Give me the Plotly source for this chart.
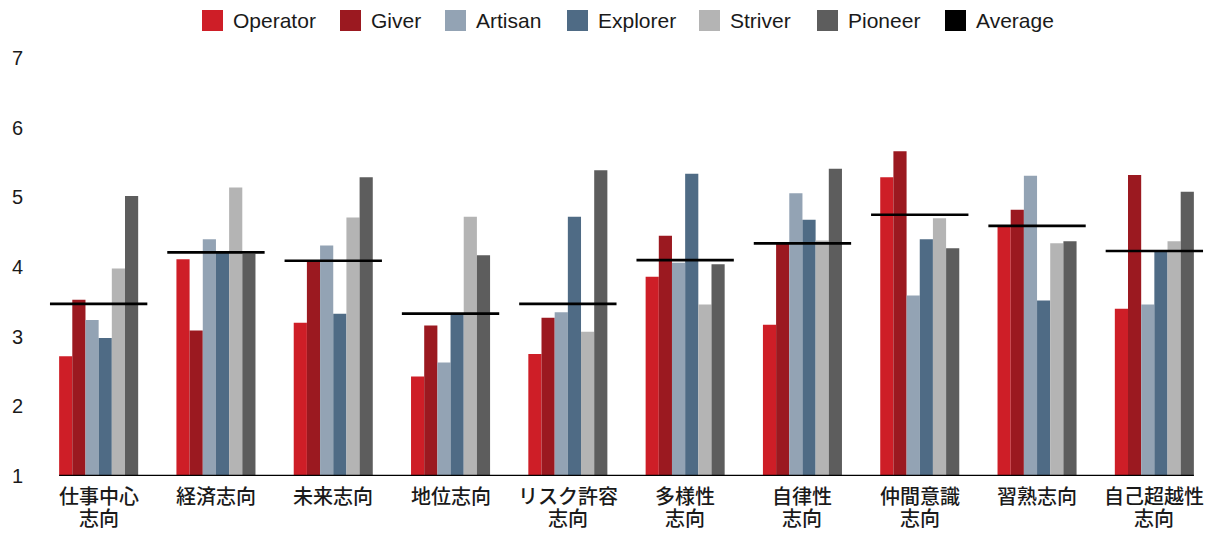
import plotly.graph_objects as go

# Orientation categories (line breaks marked with "\n")
categories = [
    "仕事中心\n志向", "経済志向", "未来志向", "地位志向", "リスク許容\n志向",
    "多様性\n志向", "自律性\n志向", "仲間意識\n志向", "習熟志向", "自己超越性\n志向",
]

# Mean scores per persona type
operator = [2.72, 4.11, 3.20, 2.43, 2.75, 3.86, 3.17, 5.29, 4.59, 3.40]
giver = [3.53, 3.09, 4.09, 3.16, 3.27, 4.45, 4.33, 5.66, 4.82, 5.32]
artisan = [3.24, 4.40, 4.31, 2.63, 3.35, 4.06, 5.06, 3.59, 5.31, 3.46]
explorer = [2.98, 4.20, 3.33, 3.32, 4.72, 5.34, 4.68, 4.40, 3.52, 4.22]
striver = [3.98, 5.14, 4.71, 4.72, 3.07, 3.46, 4.38, 4.70, 4.34, 4.37]
pioneer = [5.02, 4.19, 5.29, 4.17, 5.39, 4.04, 5.41, 4.27, 4.37, 5.08]
average = [3.47, 4.21, 4.09, 3.33, 3.47, 4.10, 4.34, 4.75, 4.59, 4.23]

series_names = ["Operator", "Giver", "Artisan", "Explorer", "Striver", "Pioneer"]
series_values = [operator, giver, artisan, explorer, striver, pioneer]
series_colors = ["#CE1E27", "#9B1920", "#93A3B4", "#4F6B85", "#B4B4B4", "#5D5D5D"]
avg_name = "Average"
avg_color = "#000000"

y_ticks = [1, 2, 3, 4, 5, 6, 7]

# Page geometry
W, H = 1223, 535
ML, MR, MT, MB = 40, 10, 58, 59
plot_w = W - ML - MR
plot_h = H - MT - MB

TEXT = "#1a1a1a"
LATIN = "Liberation Sans, Arial, sans-serif"
CJK = "Liberation Sans, Noto Sans CJK JP, sans-serif"

bar_w = 0.1123
group_w = bar_w * len(series_names)
avg_half = 0.415

fig = go.Figure()
x_idx = list(range(len(categories)))

for k, (name, vals, col) in enumerate(zip(series_names, series_values, series_colors)):
    fig.add_trace(go.Bar(
        x=x_idx, y=vals, name=name,
        marker=dict(color=col, line=dict(width=0)),
        width=bar_w, offset=-group_w / 2 + k * bar_w,
        showlegend=False,
    ))

# Average markers: one horizontal segment per category
ax, ay = [], []
for i, a in enumerate(average):
    ax += [i - avg_half, i + avg_half, None]
    ay += [a, a, None]
fig.add_trace(go.Scatter(
    x=ax, y=ay, mode="lines", name=avg_name,
    line=dict(color=avg_color, width=2.7), showlegend=False,
))

# Baseline under the bars
fig.add_shape(type="line", xref="x", yref="y",
              x0=-group_w / 2, x1=len(categories) - 1 + group_w / 2,
              y0=y_ticks[0], y1=y_ticks[0],
              line=dict(color="#000000", width=2.5), layer="above")

# Category labels below the baseline, one annotation per text line
for i, cat in enumerate(categories):
    for j, line in enumerate(cat.split("\n")):
        fig.add_annotation(
            x=i, y=y_ticks[0], xref="x", yref="y",
            text=line, showarrow=False,
            xanchor="center", yanchor="middle",
            yshift=-(21 + 22 * j),
            font=dict(family=CJK, size=20, color=TEXT, weight=500),
        )

# Legend drawn across the top
def px_x(px):
    return (px - ML) / plot_w

def px_y(py):
    return (H - MB - py) / plot_h

legend_names = series_names + [avg_name]
legend_colors = series_colors + [avg_color]
legend_left = [202, 340, 445, 567, 699, 817, 945]
sq = 21
for name, col, left in zip(legend_names, legend_colors, legend_left):
    fig.add_shape(type="rect", xref="paper", yref="paper",
                  x0=px_x(left), x1=px_x(left + sq),
                  y0=px_y(10 + sq), y1=px_y(10),
                  fillcolor=col, line=dict(width=0))
    fig.add_annotation(
        x=px_x(left + sq + 8), y=px_y(21), xref="paper", yref="paper",
        text=name, showarrow=False, xanchor="left", yanchor="middle",
        font=dict(family=LATIN, size=21, color=TEXT),
    )

fig.update_layout(
    width=W, height=H,
    margin=dict(l=ML, r=MR, t=MT, b=MB),
    paper_bgcolor="white", plot_bgcolor="white",
    barmode="overlay",
    showlegend=False,
    xaxis=dict(range=[-0.5, len(categories) - 0.5], showticklabels=False,
               showgrid=False, zeroline=False, showline=False, ticks=""),
    yaxis=dict(range=[y_ticks[0], y_ticks[-1]], tickvals=y_ticks,
               showgrid=False, zeroline=False, showline=False, ticks="",
               ticklabelstandoff=16,
               tickfont=dict(family=LATIN, size=20, color=TEXT)),
)

fig.write_html("out.html")
